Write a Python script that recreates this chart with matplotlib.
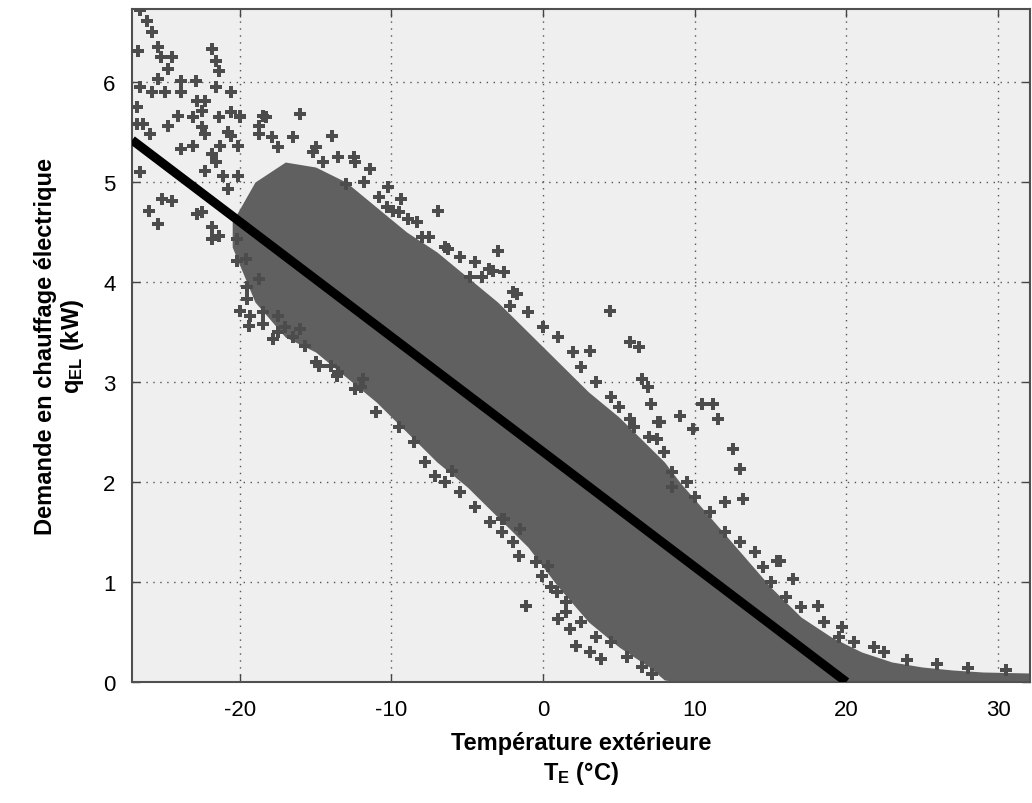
import matplotlib
matplotlib.use("Agg")
import matplotlib.pyplot as plt

plt.rcParams['font.family'] = ['Liberation Sans', 'DejaVu Sans']
plt.rcParams['axes.unicode_minus'] = False
plt.rcParams['mathtext.fontset'] = 'custom'
plt.rcParams['mathtext.rm'] = 'Liberation Sans'
plt.rcParams['mathtext.it'] = 'Liberation Sans'
plt.rcParams['mathtext.bf'] = 'Liberation Sans:bold'

# dense part of the cloud: upper and lower envelope
core_T = [-20.5, -19, -17, -15, -13, -11, -9, -7, -5, -3, -1, 1, 3, 5, 7, 8, 9,
          11, 13, 15, 17, 19, 21, 23, 25, 27, 29, 32.1]
core_hi = [4.6, 5.0, 5.2, 5.15, 5.0, 4.75, 4.5, 4.3, 4.05, 3.8, 3.5, 3.2, 2.9,
           2.65, 2.35, 2.2, 2.0, 1.65, 1.3, 0.95, 0.65, 0.45, 0.3, 0.2,
           0.15, 0.12, 0.1, 0.09]
core_lo = [4.35, 3.8, 3.45, 3.3, 3.05, 2.8, 2.5, 2.2, 1.95, 1.65, 1.35, 0.95, 0.6,
           0.35, 0.15, 0.02, 0.0, 0.0, 0.0, 0.0, 0.0, 0.0, 0.0, 0.0, 0.0,
           0.0, 0.0, 0.0]

# scattered points outside the dense part
out_T = [-26.6, -26.1, -25.8, -26.7, -25.4, -25.2, -24.5, -24.7, -25.4, -26.6,
         -25.8, -24.9, -23.9, -23.9, -22.9, -21.8, -21.6, -21.4, -21.6, -20.6,
         -26.8, -22.8, -22.3, -24.1, -23.1, -22.5, -21.4, -20.6, -20.0, -26.8,
         -26.4, -24.7, -22.5, -22.3, -25.9, -20.8, -20.6, -23.9, -23.1, -21.3,
         -20.1, -18.7, -18.3, -18.7, -17.9, -26.6, -22.3, -21.6, -21.8, -21.1,
         -25.1, -24.5, -26.0, -25.4, -22.8, -22.5, -21.8, -21.8, -21.4, -20.2,
         -20.8, -20.1, -20.2, -19.6, -18.7, -19.5, -20.0, -19.3, -19.4, -18.5,
         -17.5, -17.0, -17.8, -16.0, -15.7, -14.8, -14.0, -13.6, -12.4, -11.9,
         -16.0, -13.9, -18.5, -20.0, -11.4, -12.4, -10.2, -9.4, -6.9, -9.9,
         -8.9, -6.3, -5.5, -3.6, -3.0, -3.3, -2.6, 4.4, 3.1, 5.7,
         6.3, -1.7, -2.2, 6.5, 6.9, 7.1, 5.7, 7.6, -2.7, -1.5,
         -2.6, -6.0, -7.1, 12.5, 13.0, 13.2, 12.0, 14.0, 15.4, -2.7,
         -1.6, -1.1, -0.1, 0.3, 0.9, 1.0, 1.8, 2.2, 3.1, 3.8,
         10.5, 11.2, 11.5, 7.7, 9.0, 9.9, 7.5, 15.6, 16.5, 18.1,
         19.7, 21.8, -12.5, -10.3, -15.2, -13.0, -8.0, -4.8, 1.5, 8.5]
out_q = [6.72, 6.61, 6.5, 6.31, 6.35, 6.25, 6.25, 6.13, 6.03, 5.95,
         5.9, 5.9, 6.01, 5.9, 6.01, 6.33, 6.21, 6.11, 5.95, 5.9,
         5.75, 5.81, 5.81, 5.66, 5.65, 5.71, 5.65, 5.7, 5.65, 5.58,
         5.58, 5.56, 5.55, 5.48, 5.48, 5.5, 5.46, 5.33, 5.36, 5.36,
         5.36, 5.56, 5.65, 5.48, 5.45, 5.1, 5.11, 5.2, 5.28, 5.06,
         4.83, 4.81, 4.71, 4.58, 4.68, 4.7, 4.55, 4.43, 4.46, 4.43,
         4.93, 5.06, 4.21, 4.23, 4.03, 3.83, 3.71, 3.66, 3.56, 3.58,
         3.66, 3.55, 3.43, 3.53, 3.36, 3.16, 3.16, 3.06, 2.93, 3.03,
         5.68, 5.46, 5.66, 5.66, 5.13, 5.2, 4.95, 4.83, 4.71, 4.71,
         4.63, 4.33, 4.25, 4.13, 4.31, 4.11, 4.1, 3.71, 3.31, 3.4,
         3.35, 3.88, 3.76, 3.03, 2.95, 2.78, 2.63, 2.6, 1.5, 1.53,
         1.63, 2.11, 2.06, 2.33, 2.13, 1.83, 1.8, 1.3, 1.21, 1.63,
         1.26, 0.76, 1.06, 1.16, 0.9, 0.63, 0.53, 0.36, 0.3, 0.23,
         2.78, 2.78, 2.63, 2.6, 2.66, 2.53, 2.43, 1.21, 1.03, 0.76,
         0.55, 0.35, 5.25, 4.75, 5.3, 4.98, 4.45, 4.05, 0.7, 1.95]

# points along the ragged edges of the dense part
edge_T = [-17.5, -16.5, -15.0, -14.5, -13.5, -11.8, -10.8, -9.5, -8.3, -7.5,
          -6.5, -4.5, -4.0, -2.0, -1.0, 0.0, 1.0, 2.0, 2.5, 3.5,
          4.5, 5.0, 6.0, 7.0, 8.0, 8.5, 9.5, 10.0, 11.0, 12.0,
          13.0, 14.5, 15.0, 16.0, 17.0, 18.5, 19.5, 20.5, 22.5, 24.0,
          26.0, 28.0, 30.5,
          -19.5, -18.5, -17.5, -16.5, -15.0, -13.5, -12.0, -11.0, -9.5, -8.5,
          -7.8, -6.5, -5.5, -4.5, -3.5, -2.0, -0.5, 0.5, 1.5, 2.5,
          3.5, 4.5, 5.5, 6.5, 7.2]
edge_q = [5.35, 5.45, 5.35, 5.2, 5.25, 5.0, 4.85, 4.7, 4.6, 4.45,
          4.35, 4.2, 4.05, 3.9, 3.7, 3.55, 3.45, 3.3, 3.15, 3.0,
          2.85, 2.75, 2.55, 2.45, 2.3, 2.1, 2.0, 1.85, 1.7, 1.5,
          1.4, 1.15, 1.0, 0.85, 0.75, 0.6, 0.45, 0.4, 0.3, 0.22,
          0.18, 0.14, 0.12,
          3.95, 3.7, 3.5, 3.45, 3.2, 3.1, 2.95, 2.7, 2.55, 2.4,
          2.2, 2.0, 1.9, 1.75, 1.6, 1.4, 1.2, 0.95, 0.8, 0.6,
          0.45, 0.4, 0.25, 0.15, 0.08]

# regression line endpoints
line_T = [-27.1, 20.0]
line_q = [5.42, 0.0]

xticks = [-20, -10, 0, 10, 20, 30]
yticks = [0, 1, 2, 3, 4, 5, 6]

fig = plt.figure(figsize=(10.32, 8.04), dpi=100)
ax = fig.add_axes([0.128, 0.1505, 0.870, 0.837])
ax.set_facecolor('#efefef')

ax.fill_between(core_T, core_lo, core_hi, color='#606060', lw=0, zorder=2)
ax.scatter(out_T + edge_T, out_q + edge_q, marker='P', s=80,
           color='#4c4c4c', lw=0, zorder=3)
ax.plot(line_T, line_q, color='black', lw=6.5, solid_capstyle='butt', zorder=4)

ax.set_xlim(-27.1, 32.1)
ax.set_ylim(0, 6.73)
ax.set_xticks(xticks)
ax.set_yticks(yticks)
ax.grid(True, color='#555555', linestyle=(0, (1, 4)), lw=1.0, zorder=1)
ax.set_axisbelow(True)
ax.tick_params(direction='in', top=True, right=True, length=6, width=1,
               labelsize=16, color='#444444', pad=12)
for s in ax.spines.values():
    s.set_color('#505050')
    s.set_linewidth(1.5)

ax.set_xlabel('Température extérieure\n$\\mathbf{T_E}$ (°C)', fontsize=17,
              fontweight='bold', linespacing=1.25, labelpad=8)
ax.set_ylabel('Demande en chauffage électrique\n$\\mathbf{q_{EL}}$ (kW)',
              fontsize=17, fontweight='bold', linespacing=1.1, labelpad=12)

fig.savefig('out.png', dpi=100)
